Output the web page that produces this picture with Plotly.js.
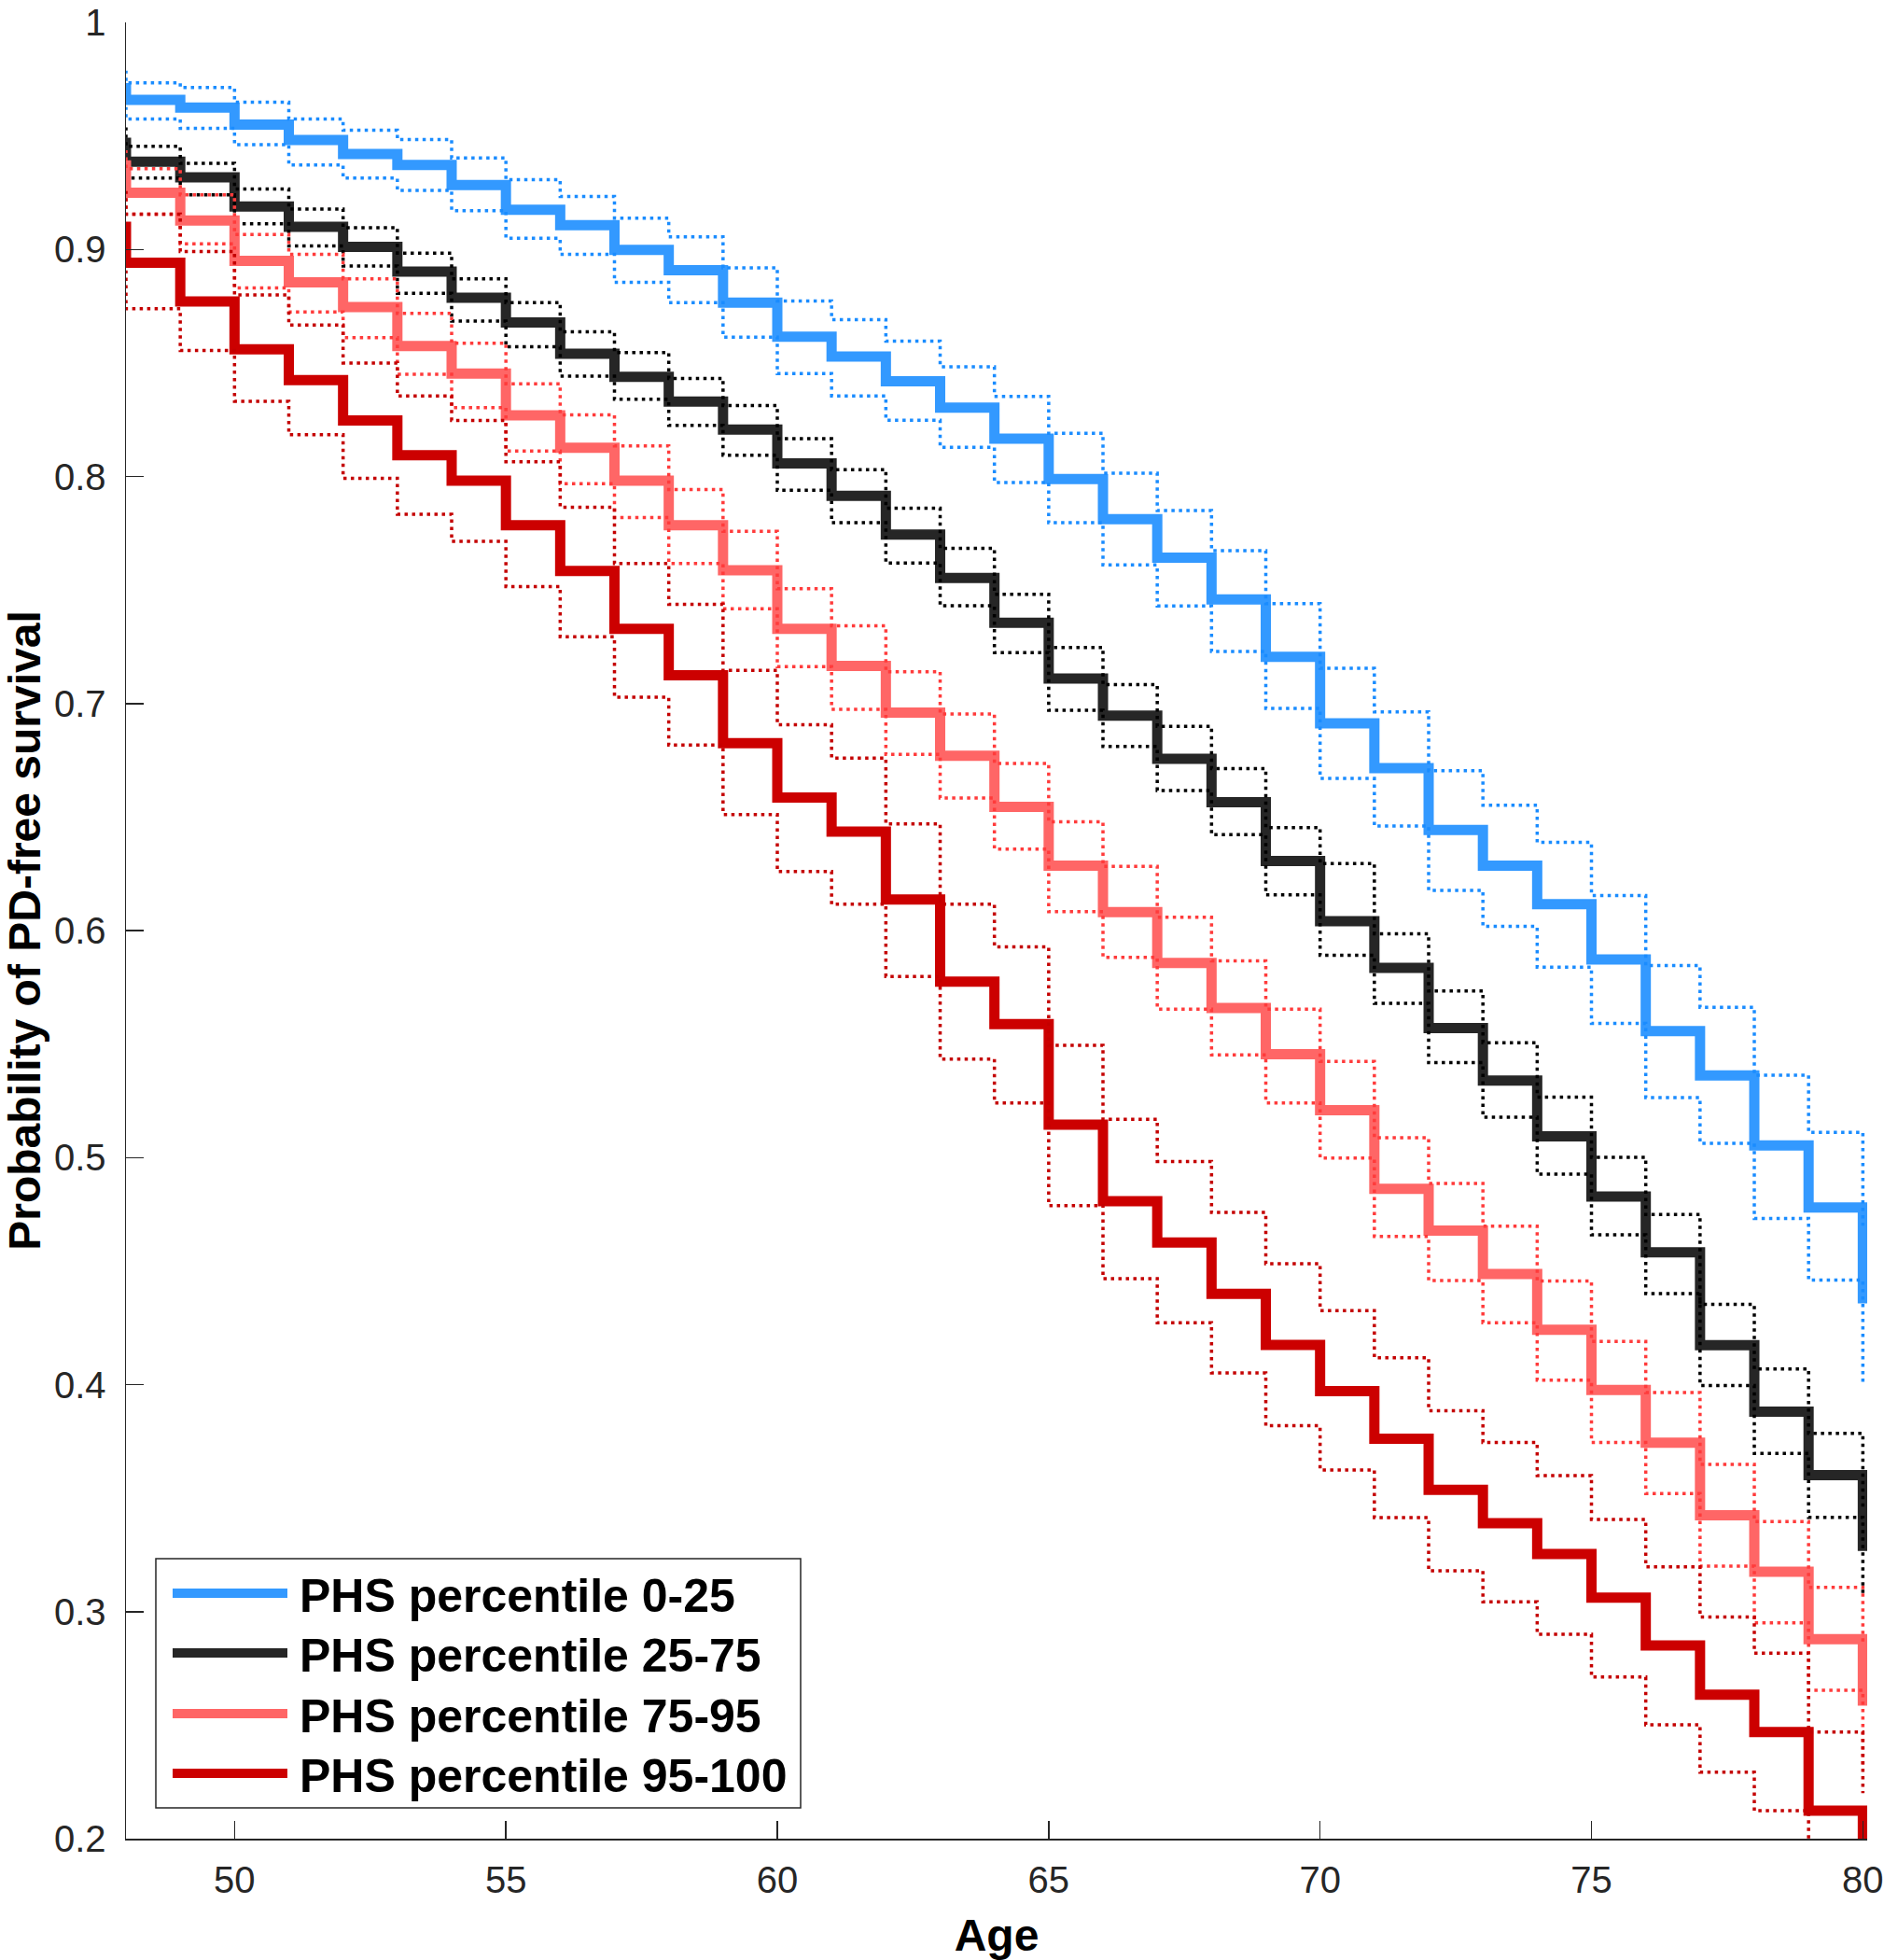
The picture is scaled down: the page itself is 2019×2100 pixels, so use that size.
<!DOCTYPE html>
<html>
<head>
<meta charset="utf-8">
<script src="https://cdn.plot.ly/plotly-3.0.1.min.js"></script>
<style>html,body{margin:0;padding:0;background:#fff;}#chart{width:2019px;height:2100px;}</style>
</head>
<body>
<div id="chart"></div>
<script>
// Age at which each step begins (value holds until the next age); 47 = value just before the axis starts
const ages = [47,48,49,50,51,52,53,54,55,56,57,58,59,60,61,62,63,64,65,66,67,68,69,70,71,72,73,74,75,76,77,78,79,80];

const seriesNames = ["PHS percentile 0-25", "PHS percentile 25-75", "PHS percentile 75-95", "PHS percentile 95-100"];

// PHS 0-25 (blue)
const p0_25 = [0.971,0.9659,0.9625,0.9550,0.9482,0.9420,0.9372,0.9284,0.9175,0.9107,0.8998,0.8909,0.8766,0.8616,0.8528,0.8419,0.8303,0.8166,0.7989,0.7812,0.7642,0.7458,0.7206,0.6913,0.6715,0.6443,0.6286,0.6116,0.5873,0.5557,0.5362,0.5053,0.4780,0.4358];
const p0_25_hi = [0.978,0.9734,0.9713,0.9648,0.9574,0.9525,0.9484,0.9403,0.9307,0.9233,0.9138,0.9056,0.8919,0.8773,0.8691,0.8596,0.8483,0.8353,0.8190,0.8014,0.7850,0.7673,0.7440,0.7155,0.6963,0.6704,0.6552,0.6388,0.6154,0.5846,0.5662,0.5363,0.5111,0.470];
const p0_25_lo = [0.962,0.9574,0.9533,0.9461,0.9372,0.9314,0.9260,0.9171,0.9049,0.8978,0.8855,0.8766,0.8614,0.8453,0.8355,0.8248,0.8128,0.7973,0.7796,0.7610,0.7430,0.7229,0.6978,0.6670,0.6460,0.6177,0.6018,0.5839,0.5591,0.5264,0.5063,0.4732,0.4460,0.4003];

// PHS 25-75 (black)
const p25_75 = [0.947,0.9386,0.9318,0.9189,0.9100,0.9011,0.8902,0.8787,0.8678,0.8541,0.8439,0.8330,0.8207,0.8058,0.7915,0.7744,0.7553,0.7356,0.7110,0.6947,0.6756,0.6565,0.6306,0.6041,0.5836,0.5570,0.5339,0.5094,0.4828,0.4583,0.4174,0.3881,0.3601,0.3267];
const p25_75_hi = [0.953,0.9454,0.9379,0.9266,0.9178,0.9096,0.8984,0.8871,0.8766,0.8637,0.8546,0.8432,0.8312,0.8166,0.8030,0.7860,0.7683,0.7481,0.7247,0.7083,0.6899,0.6713,0.6453,0.6295,0.5986,0.5734,0.5506,0.5266,0.5001,0.4749,0.4354,0.4069,0.3785,0.345];
const p25_75_lo = [0.938,0.9314,0.9240,0.9113,0.9015,0.8927,0.8807,0.8684,0.8571,0.8442,0.8340,0.8225,0.8094,0.7939,0.7796,0.7619,0.7431,0.7224,0.6970,0.6811,0.6617,0.6422,0.6157,0.5891,0.5679,0.5418,0.5178,0.4927,0.4660,0.4401,0.3996,0.3697,0.3415,0.307];

// PHS 75-95 (light red)
const p75_95 = [0.937,0.9250,0.9127,0.8950,0.8855,0.8746,0.8575,0.8453,0.8269,0.8126,0.7982,0.7785,0.7587,0.7329,0.7165,0.6960,0.6770,0.6545,0.6286,0.6081,0.5857,0.5659,0.5455,0.5209,0.4862,0.4678,0.4487,0.4242,0.3976,0.3744,0.3424,0.3176,0.2879,0.2586];
const p75_95_hi = [0.943,0.9356,0.9240,0.9066,0.8978,0.8871,0.8718,0.8587,0.8408,0.8271,0.8135,0.7942,0.7758,0.7506,0.7342,0.7140,0.6954,0.6736,0.6479,0.6283,0.6059,0.5866,0.5654,0.5423,0.5087,0.4886,0.4698,0.4456,0.4190,0.3965,0.3649,0.3397,0.3107,0.285];
const p75_95_lo = [0.925,0.9155,0.9025,0.8830,0.8725,0.8612,0.8450,0.8303,0.8112,0.7968,0.7819,0.7617,0.7417,0.7162,0.6974,0.6776,0.6584,0.6359,0.6083,0.5882,0.5654,0.5452,0.5241,0.4998,0.4653,0.4458,0.4272,0.4020,0.3745,0.3520,0.3200,0.2951,0.2654,0.232];

// PHS 95-100 (dark red)
const p95_100 = [0.910,0.8941,0.8771,0.8560,0.8424,0.8247,0.8094,0.7982,0.7785,0.7584,0.7329,0.7124,0.6825,0.6586,0.6436,0.6137,0.5775,0.5588,0.5145,0.4808,0.4626,0.4400,0.4175,0.3971,0.3762,0.3536,0.3390,0.3254,0.3062,0.2851,0.2634,0.2470,0.2123,0.195];
const p95_100_hi = [0.925,0.9155,0.8991,0.8800,0.8667,0.8500,0.8355,0.8247,0.8065,0.7864,0.7617,0.7437,0.7146,0.6906,0.6760,0.6470,0.6116,0.5928,0.5494,0.5169,0.4983,0.4758,0.4532,0.4326,0.4118,0.3885,0.3745,0.3599,0.3406,0.3197,0.2976,0.2817,0.2470,0.22];
const p95_100_lo = [0.89,0.8739,0.8555,0.8331,0.8184,0.7992,0.7834,0.7714,0.7515,0.7294,0.7028,0.6817,0.6511,0.6260,0.6116,0.5798,0.5434,0.5240,0.4788,0.4467,0.4272,0.4051,0.3819,0.3624,0.3414,0.3180,0.3043,0.2900,0.2712,0.2502,0.2293,0.2123,0.19,0.17];

const xTicks = [50,55,60,65,70,75,80];
const yTicks = [0.2,0.3,0.4,0.5,0.6,0.7,0.8,0.9,1];
const yTickText = ["0.2","0.3","0.4","0.5","0.6","0.7","0.8","0.9","1"];

const mainColors = ["#3399ff", "#262626", "#ff6666", "#cc0000"];
const ciColors = ["#1a8cff", "#000000", "#ff3b3b", "#c40000"];

const groups = [
  [p0_25, p0_25_hi, p0_25_lo],
  [p25_75, p25_75_hi, p25_75_lo],
  [p75_95, p75_95_hi, p75_95_lo],
  [p95_100, p95_100_hi, p95_100_lo]
];

const traces = [];
groups.forEach((g, i) => {
  traces.push({
    x: ages, y: g[0], type: "scatter", mode: "lines", name: seriesNames[i],
    line: {shape: "hv", color: mainColors[i], width: 11}, showlegend: false
  });
  [g[1], g[2]].forEach(ci => {
    traces.push({
      x: ages, y: ci, type: "scatter", mode: "lines",
      line: {shape: "hv", color: ciColors[i], width: 3.5, dash: "3.5px,4.5px"},
      showlegend: false, hoverinfo: "skip"
    });
  });
});

// legend geometry (paper coordinates)
const TOP = 24, BOTTOM = 1970, LEFT = 135, RIGHT = 2001;
const W = RIGHT - LEFT, H = BOTTOM - TOP;
const px = v => (v - LEFT) / W;
const py = v => (BOTTOM - v) / H;
const rowY = [1707, 1771, 1836, 1900];

const shapes = [{
  type: "rect", xref: "paper", yref: "paper",
  x0: px(167), x1: px(858), y0: py(1937), y1: py(1670),
  line: {color: "#262626", width: 1.5}, fillcolor: "#ffffff", layer: "above"
}];
const annotations = [];
seriesNames.forEach((nm, i) => {
  shapes.push({
    type: "line", xref: "paper", yref: "paper",
    x0: px(185), x1: px(308), y0: py(rowY[i]), y1: py(rowY[i]),
    line: {color: mainColors[i], width: 10}, layer: "above"
  });
  annotations.push({
    xref: "paper", yref: "paper", x: px(319), y: py(rowY[i] + 3),
    xanchor: "left", yanchor: "middle", showarrow: false,
    text: "<b>" + nm + "</b>",
    font: {family: "Liberation Sans, Arial, Helvetica, sans-serif", size: 50, color: "#000"}
  });
});

const layout = {
  width: 2019, height: 2100,
  margin: {l: LEFT, r: 2019 - RIGHT, t: TOP, b: 2100 - BOTTOM},
  paper_bgcolor: "#ffffff", plot_bgcolor: "#ffffff",
  font: {family: "Liberation Sans, Arial, Helvetica, sans-serif", size: 40, color: "#262626"},
  showlegend: false,
  xaxis: {
    range: [48, 80.08], showgrid: false, zeroline: false,
    showline: true, linecolor: "#262626", linewidth: 1.5, mirror: false,
    ticks: "inside", ticklen: 19, tickwidth: 1.5, tickcolor: "#262626",
    tickvals: xTicks, ticktext: xTicks.map(String), ticklabelstandoff: 8,
    tickfont: {size: 40, color: "#262626"},
    title: {text: "<b>Age</b>", font: {size: 48, color: "#000"}, standoff: 22}
  },
  yaxis: {
    range: [0.2, 1], showgrid: false, zeroline: false,
    showline: true, linecolor: "#262626", linewidth: 1.5, mirror: false,
    ticks: "inside", ticklen: 19, tickwidth: 1.5, tickcolor: "#262626",
    tickvals: yTicks, ticktext: yTickText, ticklabelstandoff: 12,
    ticklabeloverflow: "allow",
    tickfont: {size: 40, color: "#262626"},
    title: {text: "<b>Probability of PD-free survival</b>", font: {size: 48, color: "#000"}, standoff: 14}
  },
  shapes: shapes,
  annotations: annotations
};

Plotly.newPlot("chart", traces, layout, {staticPlot: true, displayModeBar: false});
</script>
</body>
</html>
